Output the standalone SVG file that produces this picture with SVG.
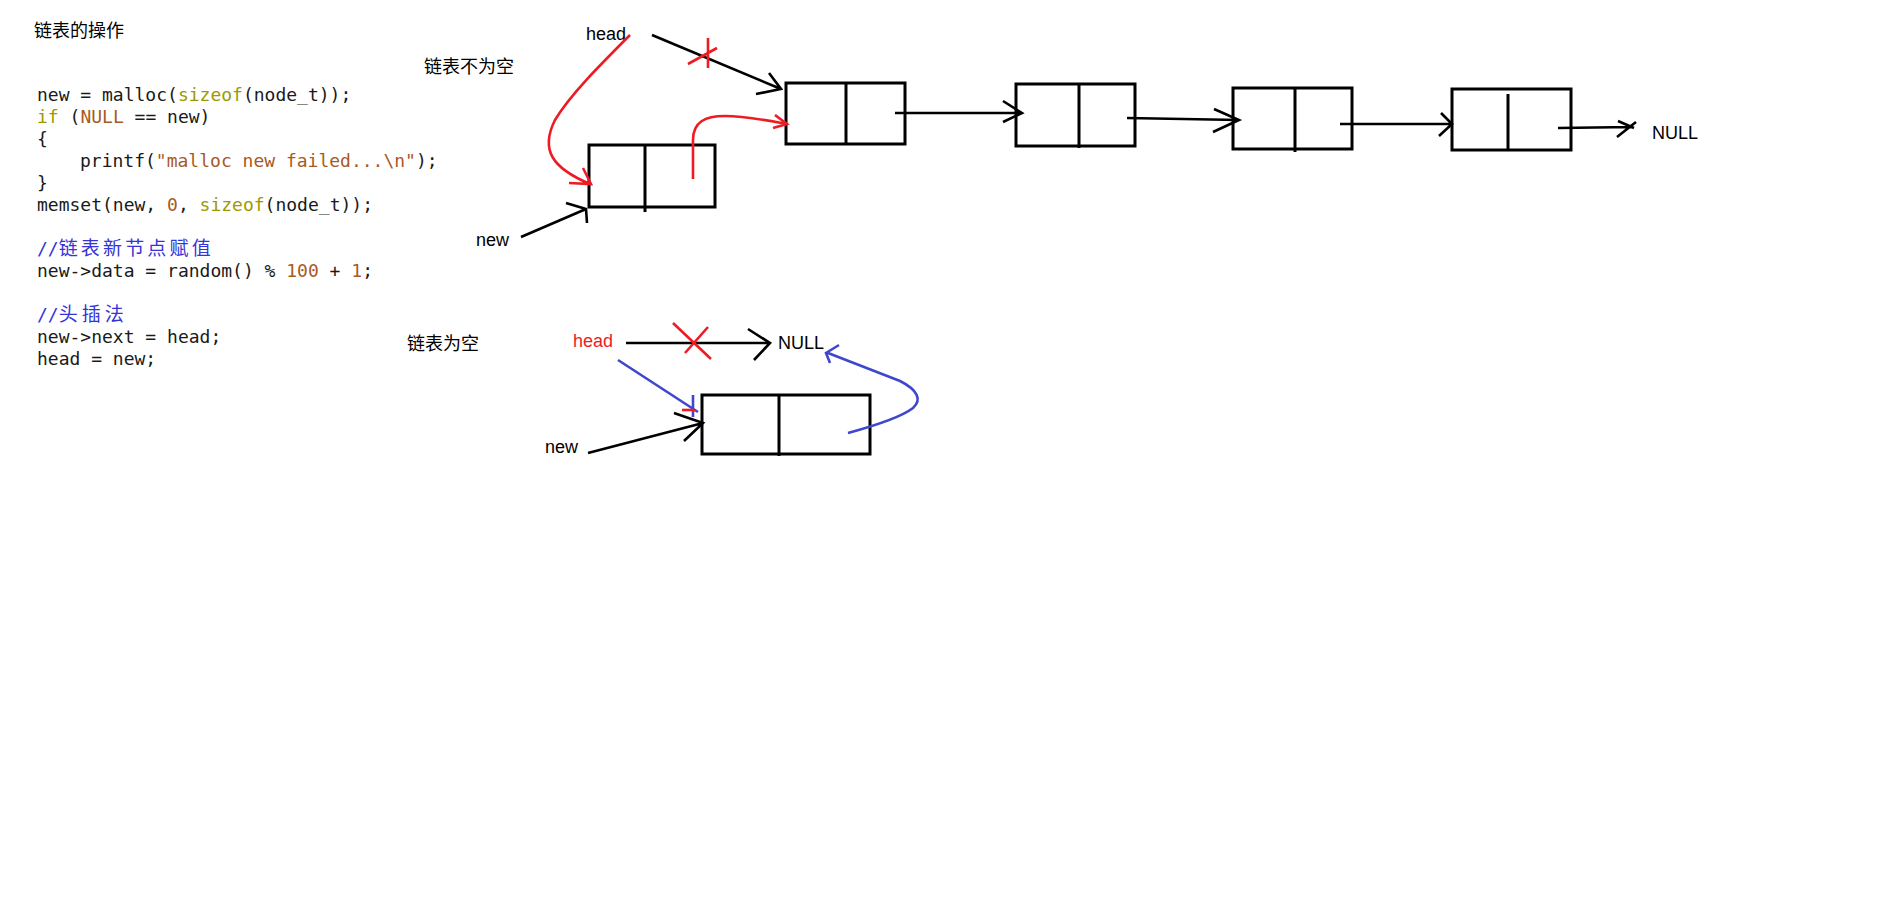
<svg xmlns="http://www.w3.org/2000/svg" width="1900" height="900" viewBox="0 0 1900 900">
  <defs>
    <style>
      .label { font-family: "Liberation Sans", "Noto Sans CJK SC", sans-serif; font-size: 18px; fill: #000; }
      .cjk { font-family: "Noto Sans CJK SC", "Liberation Sans", sans-serif; font-size: 18px; fill: #000; }
      .code { font-family: "DejaVu Sans Mono", "Liberation Mono", "Noto Sans CJK SC", monospace; font-size: 18px; fill: #1a1a1a; white-space: pre; }
      .kw { fill: #9c9a00; }
      .lit { fill: #a85a24; }
      .cmt { fill: #3434d8; }
      .cmt-cjk { font-family: "Noto Sans CJK SC", sans-serif; font-size: 19px; }
      .box { fill: #fff; stroke: #000; stroke-width: 3; }
      .div { stroke: #000; stroke-width: 3; }
      .blk { fill: none; stroke: #000; stroke-width: 2.6; }
      .red { fill: none; stroke: #ed1c24; stroke-width: 2.6; }
      .blue { fill: none; stroke: #3f48cc; stroke-width: 2.6; }
    </style>
  </defs>
  <rect width="1900" height="900" fill="#fff"/>

  <!-- headings -->
  <text class="cjk" x="34" y="37">链表的操作</text>
  <text class="cjk" x="424" y="73">链表不为空</text>
  <text class="cjk" x="407" y="350">链表为空</text>

  <!-- C snippet: head insertion -->
  <g id="code" class="code">
    <text x="37" y="101">new = malloc(<tspan class="kw">sizeof</tspan>(node_t));</text>
    <text x="37" y="123"><tspan class="kw">if</tspan> (<tspan class="lit">NULL</tspan> == new)</text>
    <text x="37" y="145">{</text>
    <text x="80" y="167">printf(<tspan class="lit">"malloc new failed...\n"</tspan>);</text>
    <text x="37" y="189">}</text>
    <text x="37" y="211">memset(new, <tspan class="lit">0</tspan>, <tspan class="kw">sizeof</tspan>(node_t));</text>
    <text x="37" y="255" class="cmt">//<tspan class="cmt-cjk" textLength="152" lengthAdjust="spacing">链表新节点赋值</tspan></text>
    <text x="37" y="277">new-&gt;data = random() % <tspan class="lit">100</tspan> + <tspan class="lit">1</tspan>;</text>
    <text x="37" y="321" class="cmt">//<tspan class="cmt-cjk" textLength="65" lengthAdjust="spacing">头插法</tspan></text>
    <text x="37" y="343">new-&gt;next = head;</text>
    <text x="37" y="365">head = new;</text>
  </g>

  <!-- non-empty list -->
  <g id="label-head-1"><text class="label" x="586" y="40">head</text></g>
  <g id="label-new-1"><text class="label" x="476" y="246">new</text></g>
  <g id="label-null-1"><text class="label" x="1652" y="139">NULL</text></g>

  <g id="node-new">
    <rect class="box" x="589" y="145" width="126" height="62"/>
    <line class="div" x1="645" y1="145" x2="645" y2="212"/>
  </g>
  <g id="node-1">
    <rect class="box" x="786" y="83" width="119" height="61"/>
    <line class="div" x1="846" y1="83" x2="846" y2="144"/>
  </g>
  <g id="node-2">
    <rect class="box" x="1016" y="84" width="119" height="62"/>
    <line class="div" x1="1079" y1="84" x2="1079" y2="148"/>
  </g>
  <g id="node-3">
    <rect class="box" x="1233" y="88" width="119" height="61"/>
    <line class="div" x1="1295" y1="88" x2="1295" y2="152"/>
  </g>
  <g id="node-4">
    <rect class="box" x="1452" y="89" width="119" height="61"/>
    <line class="div" x1="1508" y1="94" x2="1508" y2="150"/>
  </g>

  <!-- empty list -->
  <g id="label-head-2"><text class="label" x="573" y="347" style="fill:#ed1c24">head</text></g>
  <g id="label-null-2"><text class="label" x="778" y="349">NULL</text></g>
  <g id="label-new-2"><text class="label" x="545" y="453">new</text></g>
  <g id="node-single">
    <rect class="box" x="702" y="395" width="168" height="59"/>
    <line class="div" x1="779" y1="395" x2="779" y2="456"/>
  </g>

  <g id="connectors">
    <!-- head -> first node (old link, crossed out) -->
    <path class="blk" d="M652 35 L781 89 M769 73 L781 89 L756 94"/>
    <path class="red" d="M688 64 L717 48 M708 38 L708 68"/>
    <!-- head -> new node -->
    <path class="red" d="M630 35 C600 65 570 95 555 120 C540 150 552 168 590 184 M583 168 L591 184 L569 183"/>
    <!-- new.next -> first node -->
    <path class="red" d="M693 179 L693 140 C693 122 705 116 725 116 C745 116 765 120 787 124 M775 115 L787 124 L773 128"/>
    <!-- new -> new node -->
    <path class="blk" d="M521 237 L586 209 M566 203 L586 209 L587 223"/>
    <!-- chain -->
    <path class="blk" d="M895 113 L1022 113 M1003 101 L1022 113 L1003 122"/>
    <path class="blk" d="M1127 118 L1239 120 M1214 109 L1239 120 L1213 132"/>
    <path class="blk" d="M1340 124 L1452 124 M1441 113 L1452 124 L1439 136"/>
    <path class="blk" d="M1558 128 L1632 127 M1618 121 L1634 128 M1617 137 L1636 122"/>

    <!-- empty list: head -> NULL (crossed out) -->
    <path class="blk" d="M626 343 L770 343 M748 329 L770 343 L754 360"/>
    <path class="red" d="M673 323 L711 359 M685 353 L708 327"/>
    <!-- head -> new node -->
    <path class="blue" d="M618 360 L698 412 M693 395 L693 417"/>
    <path class="red" d="M682 410 L695 410"/>
    <!-- new -> node -->
    <path class="blk" d="M588 453 L703 423 M674 413 L703 423 L684 441"/>
    <!-- node.next -> NULL -->
    <path class="blue" d="M848 433 C870 427 900 418 913 408 C922 400 918 390 900 381 L828 353 M839 345 L826 353 L830 363"/>
  </g>
</svg>
